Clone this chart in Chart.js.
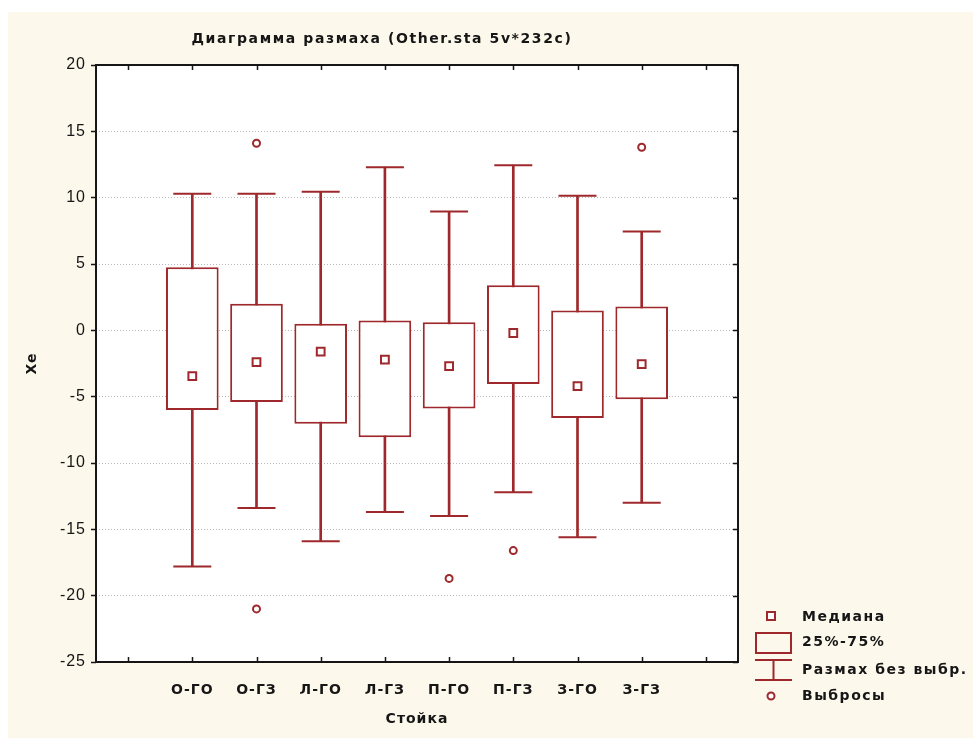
<!DOCTYPE html>
<html>
<head>
<meta charset="utf-8">
<script src="https://cdn.jsdelivr.net/npm/chart.js@4/dist/chart.umd.min.js"></script>
<style>
  html, body { margin: 0; padding: 0; background: #ffffff; }
  #wrap { width: 973px; height: 738px; position: relative; }
</style>
</head>
<body>
<div id="wrap"><canvas id="chart"></canvas></div>
<script>
// Stance groups (empty slots pad both ends of the axis)
const categories = ['', 'О-ГО', 'О-ГЗ', 'Л-ГО', 'Л-ГЗ', 'П-ГО', 'П-ГЗ', 'З-ГО', 'З-ГЗ', ''];

// Box-plot statistics for Xe per group
const whiskerLow  = [null, -17.8, -13.4, -15.9, -13.7, -14.0, -12.2, -15.6, -13.0, null];
const quartile1   = [null,  -6.0,  -5.4,  -7.05, -8.05, -5.9,  -4.05, -6.6,  -5.2,  null];
const median      = [null,  -3.45, -2.4,  -1.6,  -2.2,  -2.7,  -0.2,  -4.2,  -2.55, null];
const quartile3   = [null,   4.75,  2.0,   0.5,   0.75,  0.6,   3.4,   1.5,   1.8,  null];
const whiskerHigh = [null,  10.3,  10.3,  10.45, 12.3,   8.95, 12.45, 10.15,  7.45, null];
const outliersHigh = [null, null,  14.1,  null,  null,  null,  null,  null,  13.8,  null];
const outliersLow  = [null, null, -21.0,  null,  null, -18.7, -16.6,  null,  null,  null];

const yTicks = [-25, -20, -15, -10, -5, 0, 5, 10, 15, 20];

const RED = '#9e282b';
const INK = '#161616';
const CREAM = '#fdf8ec';
const FONT = '"DejaVu Sans", "Liberation Sans", sans-serif';

const pairs = (lo, hi) => lo.map((v, i) => (v === null ? null : [v, hi[i]]));

// Paper background, white plot area, frame, inward ticks, title and key
const decor = {
  id: 'decor',
  beforeDraw(chart) {
    const { ctx, chartArea: a } = chart;
    ctx.save();
    ctx.fillStyle = '#ffffff';
    ctx.fillRect(0, 0, chart.width, chart.height);
    ctx.fillStyle = CREAM;
    ctx.fillRect(8, 12, chart.width - 8, chart.height - 12);
    ctx.fillStyle = '#ffffff';
    ctx.fillRect(a.left, a.top, a.right - a.left, a.bottom - a.top);
    ctx.restore();
    // slightly spaced lettering for axis labels
    ctx.letterSpacing = '1px';
  },
  afterDraw(chart) {
    const { ctx, chartArea: a, scales } = chart;
    const x = scales.x, y = scales.y;
    ctx.save();
    // frame
    ctx.strokeStyle = INK;
    ctx.lineWidth = 2;
    ctx.strokeRect(a.left, a.top, a.right - a.left, a.bottom - a.top);
    // inward tick marks on bottom/top at category centres, on the right at y ticks
    ctx.lineWidth = 1.5;
    ctx.beginPath();
    for (let i = 0; i < categories.length; i++) {
      const px = Math.round(x.getPixelForTick(i)) + 0.5;
      ctx.moveTo(px, a.bottom); ctx.lineTo(px, a.bottom - 5);
      ctx.moveTo(px, a.top); ctx.lineTo(px, a.top + 5);
    }
    yTicks.forEach(v => {
      const py = Math.round(y.getPixelForValue(v)) + 0.5;
      ctx.moveTo(a.right, py); ctx.lineTo(a.right - 5, py);
    });
    ctx.stroke();

    // title
    ctx.fillStyle = INK;
    ctx.letterSpacing = '1.6px';
    ctx.font = 'bold 14px ' + FONT;
    ctx.textAlign = 'center';
    ctx.textBaseline = 'middle';
    ctx.fillText('Диаграмма размаха (Other.sta 5v*232c)', 382, 39);

    // key
    ctx.strokeStyle = RED;
    ctx.lineWidth = 2;
    ctx.fillStyle = '#ffffff';
    ctx.fillRect(767, 612, 8, 8);
    ctx.strokeRect(767, 612, 8, 8);
    ctx.strokeRect(756, 633, 35, 20);
    ctx.beginPath();
    ctx.moveTo(755, 660); ctx.lineTo(792, 660);
    ctx.moveTo(773.5, 660); ctx.lineTo(773.5, 680);
    ctx.moveTo(755, 680); ctx.lineTo(792, 680);
    ctx.stroke();
    ctx.beginPath();
    ctx.arc(771, 696, 3.5, 0, Math.PI * 2);
    ctx.fill();
    ctx.stroke();

    ctx.fillStyle = INK;
    ctx.letterSpacing = '1.5px';
    ctx.font = 'bold 14px ' + FONT;
    ctx.textAlign = 'left';
    ctx.fillText('Медиана', 802, 617);
    ctx.fillText('25%-75%', 802, 642);
    ctx.fillText('Размах без выбр.', 802, 670);
    ctx.fillText('Выбросы', 802, 696);
    ctx.restore();
    ctx.letterSpacing = '0px';
  }
};

const pointSet = (label, data, style, radius, order) => ({
  type: 'line',
  label,
  data,
  showLine: false,
  pointStyle: style,
  pointRadius: radius,
  pointBorderWidth: 2,
  pointBorderColor: RED,
  pointBackgroundColor: '#ffffff',
  borderColor: RED,
  order
});

new Chart(document.getElementById('chart'), {
  type: 'bar',
  data: {
    labels: categories,
    datasets: [
      {
        label: 'Размах без выбр.',
        data: pairs(whiskerLow, whiskerHigh),
        backgroundColor: RED,
        borderWidth: 0,
        barThickness: 2,
        grouped: false,
        order: 5
      },
      {
        label: '25%-75%',
        data: pairs(quartile1, quartile3),
        backgroundColor: '#ffffff',
        borderColor: RED,
        borderWidth: 2,
        borderSkipped: false,
        categoryPercentage: 1,
        barPercentage: 0.82,
        grouped: false,
        order: 4
      },
      pointSet('whisker-top', whiskerHigh, 'line', 19, 3),
      pointSet('whisker-bottom', whiskerLow, 'line', 19, 3),
      pointSet('Медиана', median, 'rect', 5.5, 1),
      pointSet('Выбросы', outliersHigh, 'circle', 3.5, 2),
      pointSet('Выбросы ', outliersLow, 'circle', 3.5, 2)
    ]
  },
  options: {
    responsive: true,
    maintainAspectRatio: false,
    animation: false,
    events: [],
    layout: { padding: { left: 0, top: 65, right: 235, bottom: 0 } },
    plugins: {
      legend: { display: false },
      title: { display: false },
      tooltip: { enabled: false }
    },
    scales: {
      x: {
        type: 'category',
        offset: true,
        grid: { display: false, drawTicks: false },
        border: { display: false },
        ticks: {
          color: INK,
          font: { family: FONT, size: 14, weight: 'bold' },
          padding: 20,
          maxRotation: 0,
          autoSkip: false
        },
        title: {
          display: true,
          text: 'Стойка',
          color: INK,
          font: { family: FONT, size: 14, weight: 'bold' },
          padding: { top: 10, bottom: 10 }
        },
        afterFit(scale) { scale.height = 76; }
      },
      y: {
        min: -25,
        max: 20,
        afterBuildTicks(scale) { scale.ticks = yTicks.map(v => ({ value: v })); },
        grid: {
          color: '#b8b8b8',
          lineWidth: 1,
          drawTicks: true,
          tickLength: 5,
          tickColor: INK,
          tickWidth: 1.5
        },
        border: { display: false, dash: [1, 2] },
        ticks: {
          color: INK,
          font: { family: '"Liberation Sans", Arial, sans-serif', size: 16 },
          padding: 5
        },
        title: {
          display: true,
          text: 'Xe',
          color: INK,
          font: { family: FONT, size: 14, weight: 'bold' },
          padding: { top: 24, bottom: 24 }
        },
        afterFit(scale) { scale.width = 96; }
      }
    }
  },
  plugins: [decor]
});
</script>
</body>
</html>
